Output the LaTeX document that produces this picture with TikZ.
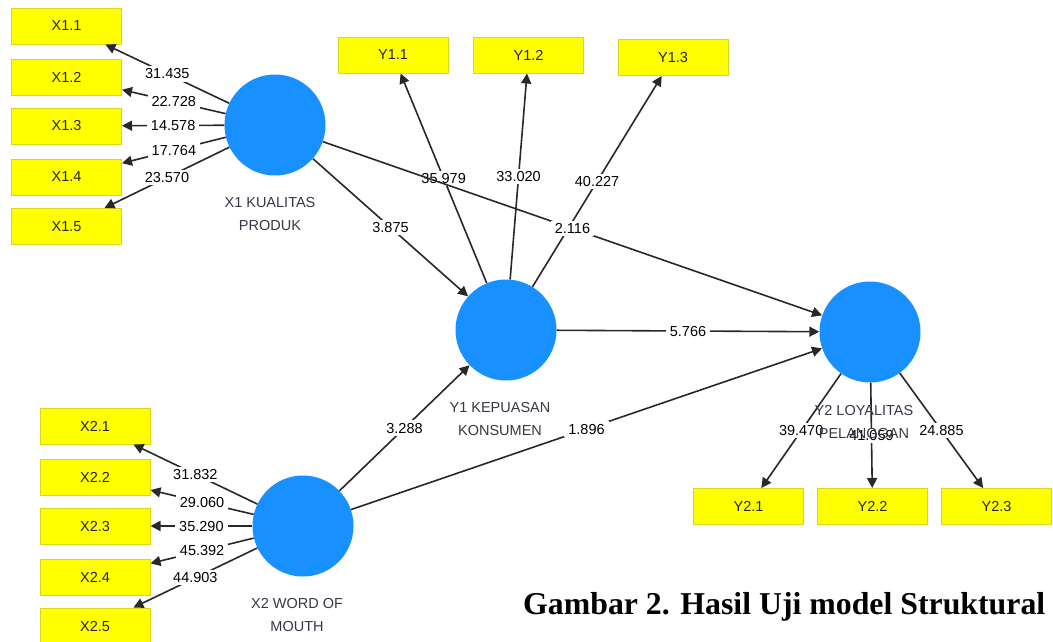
\documentclass[tikz,border=0pt]{standalone}
\usepackage{fontspec}
\setmainfont{Liberation Sans}
\newfontfamily\capfont{Liberation Serif}
\usetikzlibrary{arrows.meta,calc}
\definecolor{lvblue}{RGB}{24,144,255}
\definecolor{boxyellow}{RGB}{255,255,0}
\definecolor{boxedge}{RGB}{215,215,30}
\definecolor{linegray}{RGB}{40,40,40}
\definecolor{lvtext}{RGB}{55,55,70}
\begin{document}
\begin{tikzpicture}[x=1pt,y=-1pt,
 lv/.style={circle,fill=lvblue,draw=none,minimum size=101pt,inner sep=0pt},
 ind/.style={rectangle,fill=boxyellow,draw=boxedge,line width=1pt,minimum width=110pt,minimum height=36pt,inner sep=0pt,font=\fontsize{14.5}{17}\selectfont,text=black!85},
 conn/.style={draw=linegray,line width=1.6pt,-{Triangle[length=10pt,width=10pt]}},
 val/.style={fill=white,inner xsep=4pt,inner ysep=2.5pt,font=\fontsize{14.5}{17}\selectfont,text=black},
 lvname/.style={align=center,font=\fontsize{14.5}{23}\selectfont,text=lvtext}
]
\useasboundingbox[fill=white] (0,0) rectangle (1053,641);

% latent variables
\node[lv] (x1) at (275,125) {};
\node[lv] (y1) at (506,330) {};
\node[lv] (y2) at (870,332) {};
\node[lv] (x2) at (303,526) {};

% indicators X1
\node[ind] (x11) at (66.5,26) {X1.1};
\node[ind] (x12) at (66.5,77) {X1.2};
\node[ind] (x13) at (66.5,126) {X1.3};
\node[ind] (x14) at (66.5,177) {X1.4};
\node[ind] (x15) at (66.5,226.5) {X1.5};
% indicators Y1
\node[ind] (y11) at (393,55) {Y1.1};
\node[ind] (y12) at (528.5,55) {Y1.2};
\node[ind] (y13) at (673,57.5) {Y1.3};
% indicators X2
\node[ind] (x21) at (95,426) {X2.1};
\node[ind] (x22) at (95,477) {X2.2};
\node[ind] (x23) at (95,526) {X2.3};
\node[ind] (x24) at (95,577) {X2.4};
\node[ind] (x25) at (95,626) {X2.5};
% indicators Y2
\node[ind] (y21) at (748.5,506.5) {Y2.1};
\node[ind] (y22) at (872.5,506.5) {Y2.2};
\node[ind] (y23) at (996.5,506.5) {Y2.3};

% outer loadings X1
\draw[conn] (x1) -- node[val] {31.435} (x11);
\draw[conn] (x1) -- node[val] {22.728} (x12);
\draw[conn] (x1) -- node[val] {14.578} (x13);
\draw[conn] (x1) -- node[val] {17.764} (x14);
\draw[conn] (x1) -- node[val] {23.570} (x15);
% outer loadings X2
\draw[conn] (x2) -- node[val] {31.832} (x21);
\draw[conn] (x2) -- node[val] {29.060} (x22);
\draw[conn] (x2) -- node[val] {35.290} (x23);
\draw[conn] (x2) -- node[val] {45.392} (x24);
\draw[conn] (x2) -- node[val] {44.903} (x25);
% outer loadings Y1
\draw[conn] (y1) -- node[val] {35.979} (y11);
\draw[conn] (y1) -- node[val] {33.020} (y12);
\draw[conn] (y1) -- node[val] {40.227} (y13);
% outer loadings Y2
\draw[conn] (y2) -- node[val] {39.470} (y21);
\draw[conn] (y2) -- node[val] {41.059} (y22);
\draw[conn] (y2) -- node[val] {24.885} (y23);

% inner paths
\draw[conn] (x1) -- node[val] {3.875} (y1);
\draw[conn] (x2) -- node[val] {3.288} (y1);
\draw[conn] (y1) -- node[val] {5.766} (y2);
\draw[conn] (x2) -- node[val] {1.896} (y2);
\draw[conn] (x1) -- node[val] {2.116} (y2);

% latent names
\node[lvname] (nx1) at (270,214.5) {X1 KUALITAS\\PRODUK};
\node[lvname] (ny1) at (500,419) {Y1 KEPUASAN\\KONSUMEN};
\node[lvname] (nx2) at (297,615) {X2 WORD OF\\MOUTH};
\node[lvname] (ny2) at (864,421.5) {Y2 LOYALITAS\\PELANGGAN};

% caption
\node[anchor=base west,inner sep=0pt,font=\capfont\bfseries\fontsize{31.8}{36}\selectfont] (cap) at (523,614) {Gambar 2. Hasil Uji model Struktural};
\end{tikzpicture}
\end{document}
